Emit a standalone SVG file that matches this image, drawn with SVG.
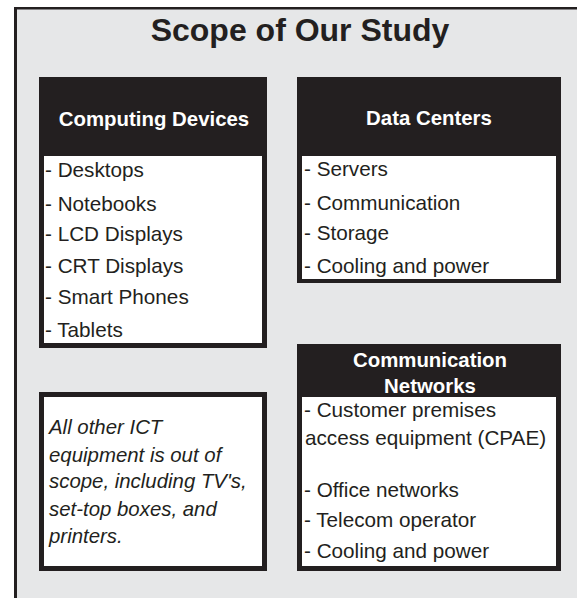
<svg xmlns="http://www.w3.org/2000/svg" width="577" height="598" viewBox="0 0 577 598">
<style>
  .dark { fill: #231f20; }
  .panel { fill: #ffffff; }
  .title { font-family: "Liberation Sans", Arial, sans-serif; font-weight: bold; font-size: 32px; fill: #231f20; text-anchor: middle; }
  .head { font-family: "Liberation Sans", Arial, sans-serif; font-weight: bold; font-size: 20.4px; fill: #ffffff; text-anchor: middle; }
  .item { font-family: "Liberation Sans", Arial, sans-serif; font-size: 20.7px; fill: #231f20; }
  .note { font-family: "Liberation Sans", Arial, sans-serif; font-style: italic; font-size: 20.4px; fill: #231f20; }
</style>
<rect x="0" y="0" width="577" height="598" fill="#ffffff"/>
<g id="frame">
  <rect x="17" y="9" width="560" height="589" fill="#e6e7e8"/>
  <rect x="14" y="7" width="563" height="2.5" class="dark"/>
  <rect x="14" y="7" width="3" height="591" class="dark"/>
</g>
<text class="title" x="300" y="41">Scope of Our Study</text>
<g id="computing-devices">
  <rect x="39" y="77" width="228" height="271" class="dark"/>
  <rect x="44" y="156" width="218" height="187" class="panel"/>
  <text class="head" x="154" y="126">Computing Devices</text>
  <text class="item" x="45" y="177">- Desktops</text>
  <text class="item" x="45" y="211">- Notebooks</text>
  <text class="item" x="45" y="241">- LCD Displays</text>
  <text class="item" x="45" y="273">- CRT Displays</text>
  <text class="item" x="45" y="304">- Smart Phones</text>
  <text class="item" x="45" y="337">- Tablets</text>
</g>
<g id="data-centers">
  <rect x="297" y="77" width="264" height="206" class="dark"/>
  <rect x="302" y="156" width="254" height="123" class="panel"/>
  <text class="head" x="429" y="125">Data Centers</text>
  <text class="item" x="304" y="176">- Servers</text>
  <text class="item" x="304" y="210">- Communication</text>
  <text class="item" x="304" y="240">- Storage</text>
  <text class="item" x="304" y="273">- Cooling and power</text>
</g>
<g id="communication-networks">
  <rect x="297" y="344" width="264" height="227" class="dark"/>
  <rect x="302" y="397" width="254" height="169" class="panel"/>
  <text class="head" x="430" y="367">Communication</text>
  <text class="head" x="430" y="393">Networks</text>
  <text class="item" x="304" y="417">- Customer premises</text>
  <text class="item" x="305" y="445">access equipment (CPAE)</text>
  <text class="item" x="304" y="497">- Office networks</text>
  <text class="item" x="304" y="527">- Telecom operator</text>
  <text class="item" x="304" y="558">- Cooling and power</text>
</g>
<g id="out-of-scope">
  <rect x="39" y="392" width="228" height="179" class="dark"/>
  <rect x="44" y="397" width="218" height="169" class="panel"/>
  <text class="note" x="49" y="434">All other ICT</text>
  <text class="note" x="49" y="462">equipment is out of</text>
  <text class="note" x="49" y="488">scope, including TV's,</text>
  <text class="note" x="49" y="516">set-top boxes, and</text>
  <text class="note" x="49" y="543">printers.</text>
</g>
<g id="connectors"/>
</svg>
